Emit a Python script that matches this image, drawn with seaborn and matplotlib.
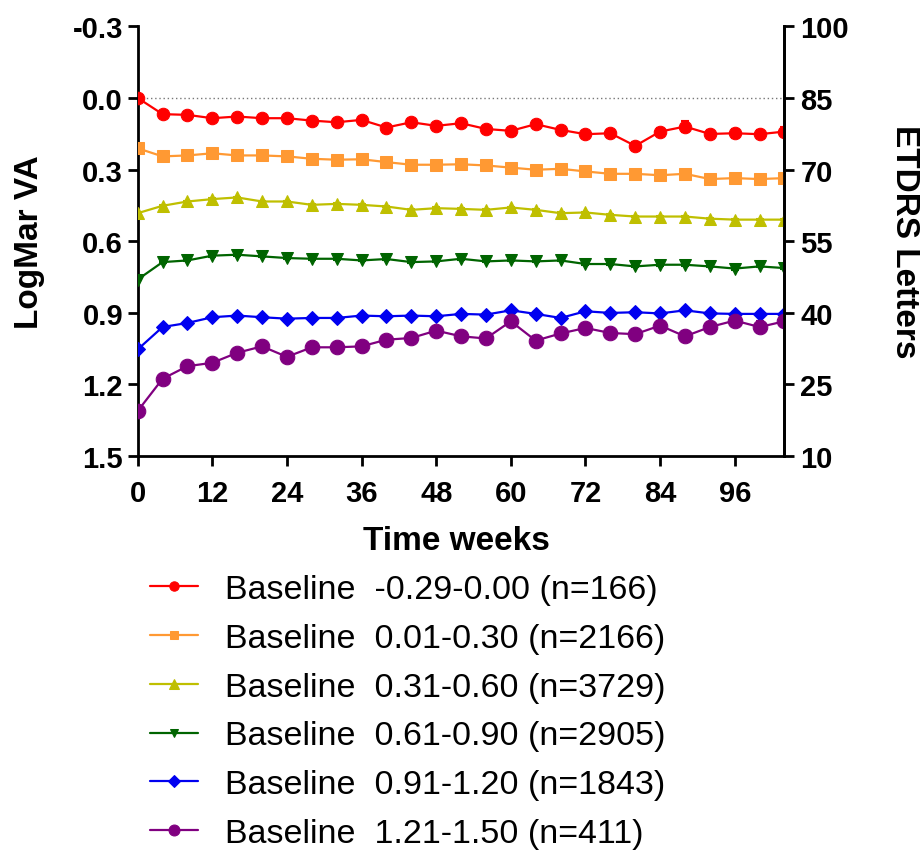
import matplotlib
matplotlib.use("Agg")
import matplotlib.pyplot as plt
import seaborn as sns
import numpy as np
import pandas as pd

sns.set_theme(style="white")
plt.rcParams['font.family'] = ['Liberation Sans', 'DejaVu Sans']
plt.rcParams['text.color'] = 'black'
plt.rcParams['axes.labelcolor'] = 'black'
plt.rcParams['xtick.color'] = 'black'
plt.rcParams['ytick.color'] = 'black'

weeks = list(range(0, 105, 4))

labels = [
    "Baseline  -0.29-0.00 (n=166)",
    "Baseline  0.01-0.30 (n=2166)",
    "Baseline  0.31-0.60 (n=3729)",
    "Baseline  0.61-0.90 (n=2905)",
    "Baseline  0.91-1.20 (n=1843)",
    "Baseline  1.21-1.50 (n=411)",
]

red = [0.000, 0.068, 0.071, 0.085, 0.078, 0.085, 0.085, 0.095, 0.102, 0.092, 0.124, 0.102, 0.117, 0.106,
       0.130, 0.138, 0.110, 0.134, 0.152, 0.148, 0.201, 0.141, 0.120, 0.151, 0.148, 0.152, 0.141]
orange = [0.211, 0.245, 0.241, 0.232, 0.241, 0.241, 0.245, 0.255, 0.259, 0.257, 0.269, 0.280, 0.280, 0.278,
          0.283, 0.292, 0.301, 0.297, 0.308, 0.318, 0.318, 0.324, 0.318, 0.340, 0.336, 0.340, 0.336]
yellow = [0.483, 0.452, 0.434, 0.424, 0.417, 0.434, 0.434, 0.448, 0.444, 0.448, 0.455, 0.469, 0.462, 0.465,
          0.469, 0.459, 0.469, 0.483, 0.480, 0.490, 0.497, 0.497, 0.497, 0.506, 0.510, 0.510, 0.510]
green = [0.761, 0.688, 0.681, 0.661, 0.657, 0.664, 0.671, 0.674, 0.674, 0.681, 0.675, 0.688, 0.685, 0.674,
         0.685, 0.681, 0.685, 0.681, 0.696, 0.696, 0.706, 0.699, 0.699, 0.706, 0.715, 0.706, 0.713]
blue = [1.054, 0.960, 0.943, 0.919, 0.912, 0.919, 0.925, 0.922, 0.922, 0.912, 0.915, 0.912, 0.915, 0.905,
        0.908, 0.890, 0.905, 0.922, 0.894, 0.901, 0.898, 0.903, 0.890, 0.903, 0.905, 0.905, 0.905]
purple = [1.312, 1.177, 1.124, 1.110, 1.068, 1.041, 1.085, 1.045, 1.045, 1.041, 1.013, 1.006, 0.975, 0.999,
          1.008, 0.936, 1.017, 0.987, 0.964, 0.985, 0.990, 0.954, 0.999, 0.960, 0.933, 0.960, 0.936]

red_err = [0.000, 0.008, 0.008, 0.009, 0.009, 0.010, 0.010, 0.011, 0.011, 0.011, 0.012, 0.012, 0.013, 0.015,
           0.013, 0.014, 0.012, 0.014, 0.015, 0.015, 0.018, 0.015, 0.022, 0.018, 0.018, 0.018, 0.018]
orange_err = [0.003] * 27
yellow_err = [0.003] * 27
green_err = [0.004] * 27
blue_err = [0.004, 0.005, 0.005, 0.005, 0.005, 0.005, 0.005, 0.005, 0.006, 0.006, 0.006, 0.006, 0.006, 0.006,
            0.007, 0.007, 0.007, 0.007, 0.007, 0.007, 0.008, 0.008, 0.008, 0.008, 0.008, 0.009, 0.009]
purple_err = [0.008, 0.010, 0.010, 0.011, 0.011, 0.012, 0.012, 0.013, 0.013, 0.014, 0.014, 0.015, 0.015, 0.016,
              0.017, 0.017, 0.018, 0.018, 0.019, 0.019, 0.020, 0.020, 0.021, 0.022, 0.023, 0.024, 0.025]

series = [red, orange, yellow, green, blue, purple]
errors = [red_err, orange_err, yellow_err, green_err, blue_err, purple_err]
colors = ["#FF0000", "#FF9933", "#BFBF00", "#006400", "#0000F0", "#800080"]
markers = ["o", "s", "^", "v", "D", "o"]
msizes = [9, 8.5, 9, 8.5, 7.5, 10.5]

fig = plt.figure(figsize=(9.24, 8.54), dpi=100)
ax = fig.add_axes([0.149, 0.465, 0.700, 0.503])

ax.plot([0, 104], [0, 0], linestyle=(0, (1, 2)), color="#777777", linewidth=1.0, zorder=1)

for vals, err, col, mk, ms, lab in zip(series, errors, colors, markers, msizes, labels):
    df = pd.DataFrame({"week": weeks, "logmar": vals})
    ax.errorbar(weeks, vals, yerr=err, fmt="none", ecolor=col, elinewidth=1.5, capsize=3, capthick=1.5, zorder=2)
    sns.lineplot(data=df, x="week", y="logmar", color=col, marker=mk, markersize=ms,
                 markeredgecolor=col, linewidth=1.6, ax=ax, label=lab, zorder=3)

ax.set_xlim(0, 104)
ax.set_ylim(1.5, -0.3)
ax.set_xticks([0, 12, 24, 36, 48, 60, 72, 84, 96])
ax.set_yticks([-0.3, 0.0, 0.3, 0.6, 0.9, 1.2, 1.5])
ax.set_yticklabels(["-0.3", "0.0", "0.3", "0.6", "0.9", "1.2", "1.5"])

for s in ["left", "bottom", "right"]:
    ax.spines[s].set_visible(True)
    ax.spines[s].set_color("black")
    ax.spines[s].set_linewidth(2.0)
ax.spines["top"].set_visible(False)

ax.tick_params(axis="x", direction="out", length=7.5, width=2, color="black",
               labelsize=21, pad=9, bottom=True)
ax.tick_params(axis="y", direction="out", length=7.5, width=2, color="black",
               labelsize=21, pad=3, left=True)
for t in ax.get_xticklabels() + ax.get_yticklabels():
    t.set_fontweight("bold")

ax.set_xlabel("Time weeks", fontsize=24, fontweight="bold", va="center")
ax.xaxis.set_label_coords(0.493, -0.196)
ax.set_ylabel("LogMar VA", fontsize=24, fontweight="bold", va="center")
ax.yaxis.set_label_coords(-0.167, 0.5)

ax2 = ax.twinx()
ax2.set_ylim(10, 100)
ax2.set_yticks([10, 25, 40, 55, 70, 85, 100])
ax2.spines["top"].set_visible(False)
ax2.spines["right"].set_color("black")
ax2.spines["right"].set_linewidth(2.0)
ax2.spines["left"].set_visible(False)
ax2.spines["bottom"].set_visible(False)
ax2.tick_params(axis="y", direction="out", length=7.5, width=2, color="black", labelsize=21, pad=4, right=True)
for t in ax2.get_yticklabels():
    t.set_fontweight("bold")
ax2.set_ylabel("ETDRS Letters", fontsize=24, fontweight="bold", rotation=270, va="center", ha="center")
ax2.yaxis.set_label_coords(1.186, 0.5)

handles, labs = ax.get_legend_handles_labels()
if ax.get_legend():
    ax.get_legend().remove()
fig.legend(handles, labs, loc="upper left", bbox_to_anchor=(0.162, 0.3263), frameon=False,
           fontsize=24.5, handlelength=1.41, handletextpad=0.79, labelspacing=0.52, markerscale=0.75,
           borderaxespad=0, borderpad=0)

fig.savefig("out.png", dpi=100)
